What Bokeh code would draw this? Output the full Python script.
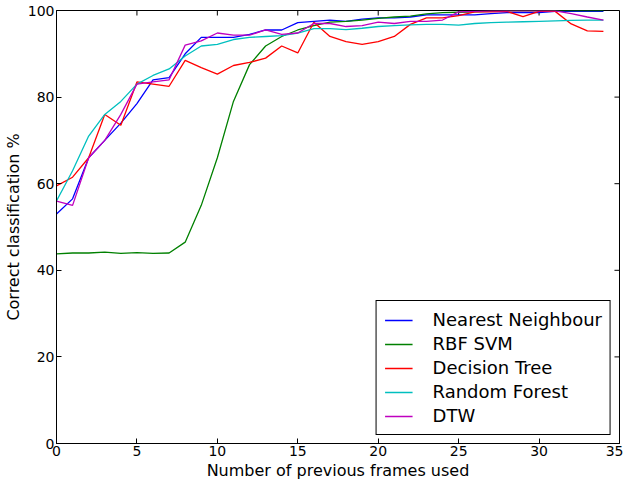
from bokeh.plotting import figure
from bokeh.models import Range1d, FixedTicker, Legend, LegendItem
from bokeh.embed import file_html
from bokeh.resources import INLINE

frames = list(range(35))

nearest_neighbour = [53, 56.5, 66, 70, 74, 78.5, 84, 84.5, 90, 93.8, 93.8, 93.8, 94.5, 95.5, 95.5,
                     97.2, 97.5, 97.8, 97.5, 98, 98.3, 98.3, 98.5, 99, 99, 99, 99, 99.3, 99.5, 99.5,
                     99.5, 99.8, 99.8, 99.8, 99.8]
rbf_svm = [43.8, 44, 44, 44.2, 43.9, 44.1, 43.9, 44, 46.5, 55, 66, 79, 87.5, 91.8, 94,
           95.5, 96.5, 97.3, 97.5, 97.8, 98.2, 98.5, 98.7, 99.2, 99.5, 99.6, 99.7, 99.8, 99.9, 99.9,
           99.9, 100, 100, 100, 100]
decision_tree = [59.5, 61.5, 66, 76, 73.5, 83.5, 83, 82.5, 88.5, 86.8, 85.3, 87.3, 88, 89, 91.8,
                 90.2, 97.3, 94, 92.8, 92.2, 92.8, 94, 96.8, 98.3, 98.3, 98.8, 99.7, 99.7, 99.8, 98.6,
                 99.8, 99.8, 96.9, 95.3, 95.2]
random_forest = [56, 63, 71, 76, 79, 83, 85, 86.5, 89.5, 91.8, 92.2, 93.3, 93.8, 94, 94.2,
                 94.8, 95.8, 95.8, 95.6, 95.9, 96.3, 96.5, 96.7, 96.8, 96.8, 96.6, 97, 97.2, 97.3, 97.4,
                 97.5, 97.6, 97.7, 97.8, 97.8]
dtw = [56, 55, 66, 70, 76, 83, 83.5, 84, 92, 93, 94.8, 94.3, 94.3, 95.5, 94.5,
       94.8, 97, 97, 96.3, 96.5, 97.3, 97, 97.5, 97.5, 97.8, 99.7, 99.8, 99.9, 99.9, 99.9,
       99.9, 99.9, 99.3, 98.5, 97.8]

series_names = ["Nearest Neighbour", "RBF SVM", "Decision Tree", "Random Forest", "DTW"]
series_values = [nearest_neighbour, rbf_svm, decision_tree, random_forest, dtw]
colors = ["#0000ff", "#008000", "#ff0000", "#00bfbf", "#bf00bf"]

x_ticks = [0, 5, 10, 15, 20, 25, 30, 35]
y_ticks = [0, 20, 40, 60, 80, 100]
X_MIN, X_MAX = 0, 35
Y_MIN, Y_MAX = 0, 100

FONT = "DejaVu Sans"

W, H = 623, 482
BORDER_TOP, BORDER_RIGHT = 10, 4

p = figure(width=W, height=H, output_backend="svg", toolbar_location=None,
           x_range=Range1d(X_MIN, X_MAX), y_range=Range1d(Y_MIN, Y_MAX),
           min_border_left=10, min_border_right=BORDER_RIGHT,
           min_border_top=BORDER_TOP, min_border_bottom=2)
p.background_fill_color = "white"
p.border_fill_color = "white"
p.outline_line_color = "black"
p.outline_line_width = 1
p.xgrid.visible = False
p.ygrid.visible = False

for ax, ticks in ((p.xaxis[0], x_ticks), (p.yaxis[0], y_ticks)):
    ax.ticker = FixedTicker(ticks=ticks)
    ax.minor_tick_line_color = None
    ax.major_tick_in = 5
    ax.major_tick_out = 0
    ax.axis_line_color = "black"
    ax.major_label_text_font = FONT
    ax.major_label_text_font_size = "14px"
    ax.major_label_text_color = "black"
    ax.axis_label_text_font = FONT
    ax.axis_label_text_font_size = "16px"
    ax.axis_label_text_font_style = "normal"
    ax.axis_label_text_color = "black"
    ax.major_label_standoff = 2
    ax.axis_label_standoff = 2

p.xaxis.axis_label = "Number of previous frames used"
p.yaxis.axis_label = "Correct classification %"

# inward tick marks on the top and right spines (matplotlib style box)
TICK_PX = 5
approx_frame_h = H - BORDER_TOP - 40
approx_frame_w = W - 60 - BORDER_RIGHT
dy = TICK_PX * (Y_MAX - Y_MIN) / approx_frame_h
dx = TICK_PX * (X_MAX - X_MIN) / approx_frame_w
p.segment(x0=x_ticks, y0=[Y_MAX] * len(x_ticks), x1=x_ticks, y1=[Y_MAX - dy] * len(x_ticks),
          line_color="black", line_width=1)
p.segment(x0=[X_MAX] * len(y_ticks), y0=y_ticks, x1=[X_MAX - dx] * len(y_ticks), y1=y_ticks,
          line_color="black", line_width=1)

items = []
for name, vals, col in zip(series_names, series_values, colors):
    r = p.line(frames, vals, line_color=col, line_width=1.3)
    items.append(LegendItem(label=name, renderers=[r]))

legend = Legend(items=items, location="bottom_right")
legend.label_text_font = FONT
legend.label_text_font_size = "18px"
legend.label_text_color = "black"
legend.border_line_color = "black"
legend.border_line_width = 1
legend.border_line_alpha = 1
legend.background_fill_alpha = 1
legend.glyph_width = 28
legend.glyph_height = 18
legend.label_height = 18
legend.label_standoff = 20
legend.spacing = 3
legend.padding = 8
legend.margin = 8
legend.label_width = 150
p.add_layout(legend, "center")

open("out.html", "w").write(file_html(p, INLINE))
